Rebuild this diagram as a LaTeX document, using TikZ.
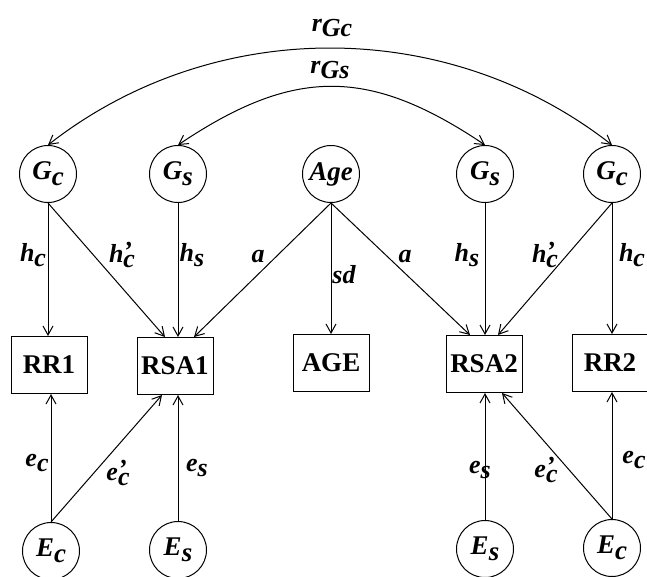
\documentclass[tikz,border=0pt]{standalone}
\usepackage{fontspec}
\setmainfont{Liberation Serif}
\usetikzlibrary{arrows.meta}
% lowered letter used for the subscripts of the path coefficients
\newcommand{\lo}[1]{\raisebox{-0.22em}{#1}}
\newcommand{\pr}{\makebox[0pt][l]{\raisebox{0.12em}{'}}}
\begin{document}
\begin{tikzpicture}[x=1pt,y=-1pt,
  latent/.style={circle, draw, line width=1pt, minimum size=57pt, inner sep=0pt,
    font=\fontsize{27}{29}\selectfont\bfseries\itshape},
  measured/.style={rectangle, draw, line width=1pt, minimum width=76pt, minimum height=57pt,
    inner sep=0pt, font=\fontsize{27}{29}\selectfont\bfseries},
  coef/.style={inner sep=0pt, font=\fontsize{26}{28}\selectfont\bfseries\itshape},
  arr/.style={line width=1pt, -{Straight Barb[length=9pt,width=10pt]}},
  darr/.style={line width=1pt, {Straight Barb[length=9pt,width=10pt]}-{Straight Barb[length=9pt,width=10pt]}}]
\useasboundingbox (0,0) rectangle (647,576);

% genetic and age factors
\node[latent] (Gc1) at (48,174) {G\lo{c}};
\node[latent] (Gs1) at (178,174) {G\lo{s}};
\node[latent] (Ag)  at (331,174) {Age};
\node[latent] (Gs2) at (485,174) {G\lo{s}};
\node[latent] (Gc2) at (612,174) {G\lo{c}};

% measured variables
\node[measured] (RR1)  at (49,365)  {RR1};
\node[measured] (RSA1) at (175,366) {RSA1};
\node[measured] (AGE)  at (331,363) {AGE};
\node[measured] (RSA2) at (484,364) {RSA2};
\node[measured] (RR2)  at (610,363) {RR2};

% environmental factors
\node[latent] (Ec1) at (51,551)  {E\lo{c}};
\node[latent] (Es1) at (178,550) {E\lo{s}};
\node[latent] (Es2) at (485,549) {E\lo{s}};
\node[latent] (Ec2) at (612,548) {E\lo{c}};

% genetic correlations
\draw[darr] (Gc1.north) .. controls (213,16) and (447,16) .. (Gc2.north);
\draw[darr] (Gs1.north) .. controls (294,67) and (369,67) .. (Gs2.north);
\node[coef] (rgc) at (332,28) {r\lo{Gc}};
\node[coef] (rgs) at (330,70) {r\lo{Gs}};

% loadings from the top factors
\draw[arr] (Gc1.south) -- (Gc1.south |- RR1.north);
\draw[arr] (Gc1.south) -- ([xshift=-10pt]RSA1.north);
\draw[arr] (Gs1.south) -- (Gs1.south |- RSA1.north);
\draw[arr] (Ag.south) -- ([xshift=19pt]RSA1.north);
\draw[arr] (Ag.south) -- (AGE.north);
\draw[arr] (Ag.south) -- ([xshift=-14pt]RSA2.north);
\draw[arr] (Gs2.south) -- (Gs2.south |- RSA2.north);
\draw[arr] (Gc2.south) -- ([xshift=14pt]RSA2.north);
\draw[arr] (Gc2.south) -- (Gc2.south |- RR2.north);

% loadings from the environmental factors
\draw[arr] (Ec1.north) -- (Ec1.north |- RR1.south);
\draw[arr] (Ec1.north) -- ([xshift=-13pt]RSA1.south);
\draw[arr] (Es1.north) -- (Es1.north |- RSA1.south);
\draw[arr] (Es2.north) -- (Es2.north |- RSA2.south);
\draw[arr] (Ec2.north) -- ([xshift=18pt]RSA2.south);
\draw[arr] (Ec2.north) -- (Ec2.north |- RR2.south);

% path coefficients
\node[coef] (l1) at (33,255)  {h\lo{c}};
\node[coef] (l2) at (122,255) {h\pr\lo{c}};
\node[coef] (l3) at (192,255) {h\lo{s}};
\node[coef] (l4) at (258,257) {a};
\node[coef] (l5) at (344,275) {sd};
\node[coef] (l6) at (405,257) {a};
\node[coef] (l7) at (467,255) {h\lo{s}};
\node[coef] (l8) at (545,255) {h\pr\lo{c}};
\node[coef] (l9) at (632,255) {h\lo{c}};

\node[coef] (m1) at (37,463)  {e\lo{c}};
\node[coef] (m2) at (118,473) {e\pr\lo{c}};
\node[coef] (m3) at (197,468) {e\lo{s}};
\node[coef] (m4) at (480,470) {e\lo{s}};
\node[coef] (m5) at (546,470) {e\pr\lo{c}};
\node[coef] (m6) at (634,460) {e\lo{c}};
\end{tikzpicture}
\end{document}
